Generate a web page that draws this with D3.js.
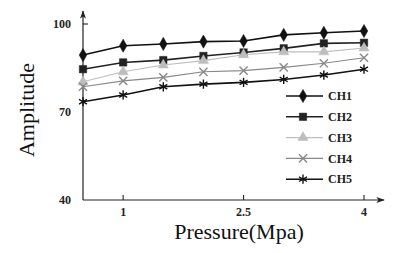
<!DOCTYPE html>
<html>
<head>
<meta charset="utf-8">
<script src="https://cdn.jsdelivr.net/npm/d3@7"></script>
<style>
  body { margin: 0; background: #fff; }
  svg { display: block; }
</style>
</head>
<body>
<svg width="393" height="253"></svg>
<script>
const pressure = [0.5, 1, 1.5, 2, 2.5, 3, 3.5, 4];
const ch1 = [89.4, 92.6, 93.2, 94.0, 94.2, 96.3, 97.0, 97.6];
const ch2 = [84.6, 86.9, 87.7, 89.1, 90.3, 91.7, 93.4, 93.6];
const ch3 = [80.3, 83.7, 86.0, 87.5, 89.5, 90.5, 90.5, 91.8];
const ch4 = [78.6, 80.6, 81.8, 83.7, 84.1, 85.2, 86.6, 88.5];
const ch5 = [73.5, 75.8, 78.6, 79.5, 80.1, 81.1, 82.6, 84.6];
const seriesNames = ['CH1', 'CH2', 'CH3', 'CH4', 'CH5'];
const xTicks = [1, 2.5, 4];
const yTicks = [40, 70, 100];

const series = [
    { name: 'CH1', values: ch1, color: '#111', width: 1.6, symbol: d3.symbolDiamond, size: 50, filled: true },
    { name: 'CH2', values: ch2, color: '#222', width: 1.6, symbol: d3.symbolSquare, size: 55, filled: true },
    { name: 'CH3', values: ch3, color: '#bdbdbd', width: 1.1, symbol: d3.symbolTriangle, size: 45, filled: true },
    { name: 'CH4', values: ch4, color: '#888', width: 1.1, symbol: d3.symbolX, size: 45, filled: false },
    { name: 'CH5', values: ch5, color: '#111', width: 1.6, symbol: d3.symbolAsterisk, size: 60, filled: false },
];

const svg = d3.select('svg');
const x0 = 83, y0 = 200;

const x = d3.scaleLinear().domain([0.5, 4]).range([x0, 364]);
const y = d3.scaleLinear().domain([40, 100]).range([y0, 24]);

const axisColor = '#222';
const serif = '"Liberation Serif", "Times New Roman", serif';

// axes with arrows
svg.append('defs').append('marker')
    .attr('id', 'arrow')
    .attr('viewBox', '0 0 10 10')
    .attr('refX', 9).attr('refY', 5)
    .attr('markerWidth', 7).attr('markerHeight', 7)
    .attr('orient', 'auto')
    .append('path')
    .attr('d', 'M0,1.5 L10,5 L0,8.5 L2.5,5 Z')
    .attr('fill', axisColor);

svg.append('line')
    .attr('x1', x0).attr('y1', y0)
    .attr('x2', 384).attr('y2', y0)
    .attr('stroke', axisColor).attr('stroke-width', 1.2)
    .attr('marker-end', 'url(#arrow)');

svg.append('line')
    .attr('x1', x0).attr('y1', y0)
    .attr('x2', x0).attr('y2', 11)
    .attr('stroke', axisColor).attr('stroke-width', 1.2)
    .attr('marker-end', 'url(#arrow)');

// x ticks
const xt = svg.append('g').selectAll('g')
    .data(xTicks)
    .join('g')
    .attr('transform', d => `translate(${x(d)},${y0})`);
xt.append('line').attr('y2', -5).attr('stroke', axisColor).attr('stroke-width', 1.1);
xt.append('text')
    .attr('y', 16)
    .attr('text-anchor', 'middle')
    .attr('font-family', serif)
    .attr('font-weight', 'bold')
    .attr('font-size', 12)
    .attr('fill', '#222')
    .text(d => d);

// y ticks
const yt = svg.append('g').selectAll('g')
    .data(yTicks)
    .join('g')
    .attr('transform', d => `translate(${x0},${y(d)})`);
yt.filter(d => d === 100).append('line').attr('x2', 5).attr('stroke', axisColor).attr('stroke-width', 1.1);
yt.append('text')
    .attr('x', -12)
    .attr('dy', '0.35em')
    .attr('text-anchor', 'end')
    .attr('font-family', serif)
    .attr('font-weight', 'bold')
    .attr('font-size', 12)
    .attr('fill', '#222')
    .text(d => d);

// axis titles
svg.append('text')
    .attr('x', 239).attr('y', 239)
    .attr('text-anchor', 'middle')
    .attr('font-family', serif)
    .attr('font-size', 22)
    .attr('fill', '#111')
    .text('Pressure(Mpa)');

svg.append('text')
    .attr('transform', 'translate(34,110) rotate(-90)')
    .attr('text-anchor', 'middle')
    .attr('font-family', serif)
    .attr('font-size', 22)
    .attr('fill', '#111')
    .text('Amplitude');

// lines
const line = d3.line()
    .x((d, i) => x(pressure[i]))
    .y(d => y(d));

const drawSymbol = (sel, s) => {
    sel.attr('d', d3.symbol(s.symbol, s.size)())
        .attr('fill', s.filled ? s.color : 'none')
        .attr('stroke', s.color)
        .attr('stroke-width', s.filled ? 0.5 : 1.4);
};

series.forEach(s => {
    const g = svg.append('g');
    g.append('path')
        .attr('d', line(s.values))
        .attr('fill', 'none')
        .attr('stroke', s.color)
        .attr('stroke-width', s.width);
    g.selectAll('path.pt')
        .data(s.values)
        .join('path')
        .attr('class', 'pt')
        .attr('transform', (d, i) => `translate(${x(pressure[i])},${y(d)})`)
        .call(drawSymbol, s);
});

// legend
const legend = svg.append('g').attr('transform', 'translate(286,96)');
const item = legend.selectAll('g')
    .data(series)
    .join('g')
    .attr('transform', (d, i) => `translate(0,${i * 20.8})`);
item.append('line')
    .attr('x2', 37)
    .attr('stroke', d => d.color)
    .attr('stroke-width', d => d.width);
item.append('path')
    .attr('transform', 'translate(17,0)')
    .each(function (d) { d3.select(this).call(drawSymbol, d); });
item.append('text')
    .attr('x', 42)
    .attr('dy', '0.35em')
    .attr('font-family', serif)
    .attr('font-weight', 'bold')
    .attr('font-size', 12)
    .attr('fill', '#222')
    .text((d, i) => seriesNames[i]);
</script>
</body>
</html>
